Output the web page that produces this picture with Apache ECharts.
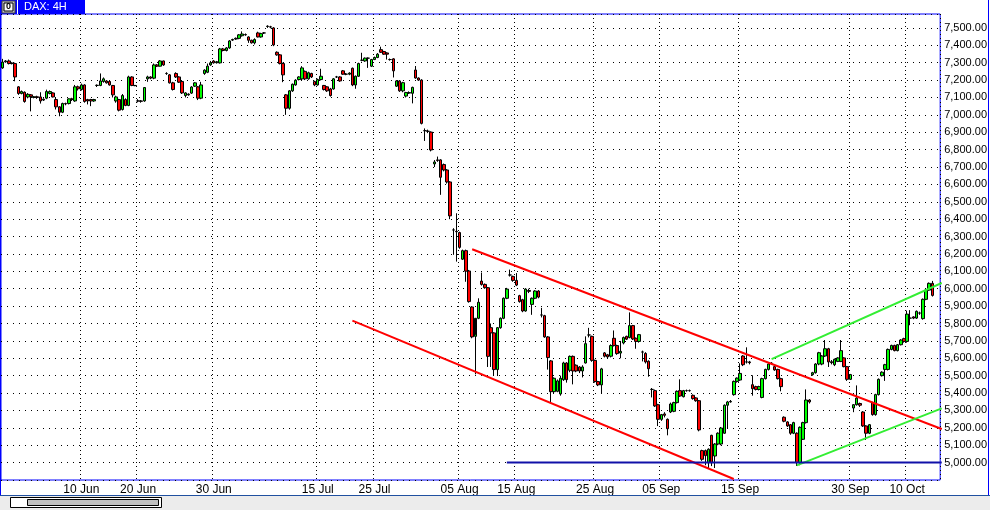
<!DOCTYPE html>
<html><head><meta charset="utf-8">
<script src="https://cdn.jsdelivr.net/npm/echarts@6/dist/echarts.min.js"></script>
<style>html,body{margin:0;padding:0;background:#fff}#c{width:990px;height:510px}</style>
</head><body><div id="c"></div>
<script>
// DAX 4H candles: [open, close, low, high]
const candles = [
[7270,7303,7265,7322],[7305,7310,7300,7315],[7310,7295,7290,7318],[7298,7295,7290,7302],[7295,7218,7193,7300],
[7161,7123,7115,7165],[7123,7134,7118,7140],[7130,7077,7070,7135],[7103,7118,7095,7125],[7115,7105,7020,7120],
[7100,7104,7095,7108],[7104,7100,7092,7110],[7103,7080,7065,7130],[7085,7090,7080,7095],[7096,7134,7090,7145],
[7123,7134,7118,7140],[7126,7103,7100,7130],[7088,7046,7031,7099],[7046,7015,6992,7050],[7015,7065,7010,7070],
[7065,7063,7055,7070],[7065,7092,7060,7095],[7092,7088,7080,7098],[7080,7161,7075,7172],[7161,7150,7140,7168],
[7146,7172,7140,7180],[7172,7077,7070,7176],[7088,7080,7060,7092],[7088,7080,7050,7092],[7080,7088,7075,7092],
[7169,7170,7160,7175],[7169,7195,7165,7238],[7192,7207,7185,7215],[7195,7184,7180,7200],[7192,7172,7168,7196],
[7169,7115,7100,7172],[7080,7103,7070,7110],[7088,7027,7020,7092],[7031,7111,7025,7120],[7088,7054,7050,7095],
[7054,7218,7050,7225],[7218,7169,7165,7222],[7169,7168,7165,7172],[7080,7080,7072,7090],[7080,7078,7070,7085],
[7080,7157,7075,7160],[7207,7218,7190,7225],[7218,7211,7205,7222],[7211,7287,7205,7295],[7287,7280,7275,7292],
[7280,7310,7278,7315],[7310,7287,7282,7312],[7238,7238,7230,7245],[7230,7184,7180,7235],[7184,7146,7140,7190],
[7238,7218,7212,7245],[7218,7188,7183,7222],[7192,7126,7120,7196],[7111,7126,7100,7130],[7115,7119,7110,7124],
[7125,7160,7120,7165],[7165,7184,7160,7188],[7161,7096,7085,7166],[7096,7172,7090,7190],[7238,7257,7230,7262],
[7245,7280,7240,7295],[7287,7299,7282,7310],[7310,7299,7295,7315],[7300,7305,7295,7310],[7299,7379,7295,7385],
[7379,7370,7365,7385],[7370,7385,7365,7390],[7385,7425,7380,7430],[7430,7433,7425,7438],[7436,7440,7432,7445],
[7440,7460,7435,7465],[7455,7465,7450,7480],[7462,7460,7455,7468],
[7448,7429,7414,7452],[7429,7414,7410,7432],[7414,7433,7405,7440],[7471,7448,7445,7478],[7448,7467,7444,7472],
[7471,7471,7465,7476],[7508,7510,7500,7515],[7506,7505,7498,7512],[7500,7402,7395,7505],[7360,7345,7340,7365],
[7345,7295,7290,7350],[7295,7230,7188,7300],[7115,7038,7000,7120],[7038,7138,7030,7142],[7138,7176,7132,7180],
[7172,7199,7168,7205],[7203,7218,7198,7222],[7207,7270,7200,7280],[7250,7207,7200,7255],[7207,7242,7202,7248],
[7238,7218,7212,7242],[7192,7172,7165,7196],[7172,7203,7168,7208],[7203,7222,7198,7265],[7169,7146,7140,7172],
[7161,7138,7132,7165],[7149,7111,7105,7155],[7149,7207,7145,7212],[7218,7218,7212,7224],[7218,7195,7190,7222],
[7253,7234,7230,7258],[7234,7234,7228,7240],[7234,7240,7228,7245],[7268,7172,7165,7272],[7172,7222,7150,7226],
[7222,7295,7218,7300],[7314,7314,7308,7357],[7310,7326,7305,7330],[7326,7326,7270,7330],[7280,7318,7275,7322],
[7318,7330,7315,7335],[7330,7349,7326,7355],[7375,7360,7356,7392],[7364,7349,7345,7368],[7356,7349,7318,7360],
[7318,7318,7312,7324],[7322,7253,7215,7326],[7165,7195,7160,7200],[7195,7138,7132,7200],[7138,7185,7130,7190],
[7108,7128,7100,7132],[7125,7128,7120,7135],[7124,7158,7066,7162],[7258,7212,7208,7281],[7212,7200,7195,7215],
[7200,6951,6945,7205],
[6909,6909,6850,6922],[6906,6905,6895,6915],[6901,6798,6790,6905],[6718,6729,6700,6740],[6741,6738,6730,6760],
[6741,6641,6540,6745],[6714,6683,6675,6720],[6683,6614,6605,6688],[6614,6419,6400,6618],[6338,6338,6195,6348],
[6330,6328,6156,6434],[6323,6238,6230,6328],[6170,6219,6165,6225],[6219,6101,6040,6225],[6102,5926,5920,6108],
[5895,5723,5715,5900],[5726,5830,5508,5735],[5830,5922,5825,5945],[6044,6025,6018,6093],[6025,6006,6000,6030],
[6006,5611,5550,6010],[5776,5746,5550,5800],[5746,5535,5498,5750],[5535,5776,5498,5780],[5776,5830,5770,5835],
[5830,5945,5825,5950],[5945,5998,5940,6005],[6079,6079,6070,6110],[6071,6048,6040,6075],[6048,6021,6015,6090],
[5960,5926,5920,5965],[5937,5872,5865,5942],[5872,5998,5868,6003],[5990,5985,5975,6000],[5910,5945,5850,5950],
[5945,5987,5940,5992],[5987,5952,5945,5992],[5849,5849,5835,5890],[5845,5723,5718,5850],[5723,5604,5535,5728],
[5585,5408,5347,5590],[5408,5485,5400,5490],[5410,5470,5405,5478],[5395,5485,5385,5500],[5477,5573,5470,5580],
[5573,5477,5460,5578],[5531,5611,5520,5616],[5611,5527,5450,5616],[5560,5527,5520,5565],[5550,5527,5515,5555],
[5527,5550,5490,5560],[5573,5684,5570,5726],[5734,5734,5720,5775],[5726,5588,5580,5730],[5588,5466,5460,5592],
[5466,5447,5440,5470],[5447,5539,5400,5545],[5631,5612,5605,5636],[5620,5608,5600,5625],[5612,5673,5605,5680],
[5715,5673,5668,5760],[5673,5627,5620,5678],[5630,5640,5600,5700],[5688,5719,5680,5725],[5726,5710,5705,5730],
[5719,5788,5715,5864],[5788,5711,5705,5792],[5715,5697,5655,5720],[5697,5736,5690,5740],[5636,5636,5582,5644],
[5628,5579,5570,5635],[5583,5540,5494,5588],[5421,5421,5375,5429],[5414,5326,5320,5420],[5333,5249,5210,5338],
[5249,5276,5240,5280],[5280,5272,5260,5290],[5249,5195,5157,5254],[5291,5337,5285,5345],[5295,5345,5290,5350],
[5345,5410,5340,5415],[5414,5383,5378,5479],[5379,5414,5375,5418],[5414,5414,5408,5420],[5414,5414,5408,5420],
[5387,5368,5362,5392],[5372,5356,5350,5376],[5356,5188,5180,5360],[5069,5019,5010,5074],[5069,5040,4985,5075],
[5000,5077,4969,5082],[5157,5000,4980,5160],[5038,5107,4969,5112],[5107,5169,5100,5174],[5107,5199,5100,5205],
[5169,5330,5165,5335],[5330,5349,5195,5355],[5349,5352,5345,5360],[5391,5467,5385,5472],[5467,5486,5460,5490],
[5475,5513,5470,5571],[5613,5563,5555,5618],[5579,5579,5570,5663],[5579,5575,5565,5585],[5448,5425,5385,5502],
[5437,5421,5415,5442],[5421,5437,5415,5442],[5375,5483,5370,5488],[5483,5536,5478,5540],[5536,5567,5530,5572],
[5571,5571,5565,5578],[5552,5533,5528,5558],[5536,5483,5478,5540],[5483,5437,5410,5488],[5261,5238,5232,5266],
[5234,5211,5205,5238],[5218,5169,5160,5222],[5169,5230,5164,5235],[5169,5000,4981,5174],[5000,5203,4985,5208],
[5134,5230,5130,5235],[5230,5360,5225,5421],[5360,5349,5340,5365],[5506,5517,5500,5522],[5517,5567,5512,5572],
[5567,5632,5560,5637],[5567,5613,5560,5618],[5613,5655,5608,5705],[5655,5579,5550,5660],[5580,5575,5565,5590],
[5563,5594,5555,5598],[5582,5602,5578,5606],[5582,5644,5578,5705],[5602,5552,5548,5606],[5552,5479,5470,5556],
[5479,5506,5475,5510],[5314,5333,5290,5337],[5333,5371,5328,5444],[5340,5330,5320,5345],[5291,5211,5205,5296],
[5211,5169,5130,5215],[5169,5218,5164,5222],[5345,5276,5270,5350],[5276,5391,5270,5396],[5391,5479,5386,5484],
[5500,5520,5495,5525],[5536,5563,5470,5568],[5536,5651,5530,5656],[5651,5674,5646,5678],[5674,5644,5640,5678],
[5644,5678,5640,5682],[5678,5705,5674,5710],[5713,5697,5690,5718],[5697,5854,5690,5874],[5831,5831,5790,5877],
[5838,5831,5825,5842],[5831,5870,5826,5875],[5860,5860,5850,5868],[5828,5939,5822,5944],[5939,5992,5934,5997],
[5992,6031,5988,6036],[6031,5961.72,5955,6045]
];
const padBars = 2;
const tickIndex = [25, 43, 67, 100, 118, 145, 163, 188, 209, 234, 269, 287];
const tickText = ['10 Jun','20 Jun','30 Jun','15 Jul','25 Jul','05 Aug','15 Aug','25 Aug','05 Sep','15 Sep','30 Sep','10 Oct'];
const upperRed = [[149, 6227], [298, 5193]];
const lowerRed = [[111, 5817], [232, 4906]];
const upperGreen = [[244, 5595], [298, 6033]];
const lowerGreen = [[252, 4984], [298, 5312]];
const support = [[160, 5000], [298, 5000]];

const categories = [];
for (let i = 0; i < candles.length + padBars; i++) categories.push(String(i));
const labelMap = {};
tickIndex.forEach((ix, k) => { labelMap[ix] = tickText[k]; });
const fmt = v => {
  const s = v.toFixed(2); const p = s.split('.');
  return p[0].replace(/\B(?=(\d{3})+(?!\d))/g, ',') + '.' + p[1];
};
const lastClose = candles[candles.length - 1][1];

const chart = echarts.init(document.getElementById('c'), null, {renderer: 'canvas'});
const lineSeries = (data, color, w) => ({
  type: 'line', data: data, symbol: 'none', silent: true, animation: false,
  lineStyle: {color: color, width: w}, z: 5
});
chart.setOption({
  animation: false,
  backgroundColor: '#fff',
  grid: {left: 1, right: 47, top: 14, bottom: 30, show: true, borderColor: '#0000ff', borderWidth: 1, backgroundColor: '#fff'},
  xAxis: {
    type: 'category', data: categories, boundaryGap: true,
    axisLine: {show: false}, axisTick: {show: false},
    axisLabel: {
      interval: (i) => tickIndex.indexOf(i) >= 0,
      formatter: (v, i) => labelMap[i] || '',
      fontSize: 12, fontFamily: 'Liberation Sans Narrow, Liberation Sans, sans-serif', color: '#000', margin: 4
    },
    splitLine: {show: true, interval: (i) => tickIndex.indexOf(i) >= 0, lineStyle: {color: '#000', width: 1, type: [1, 3]}}
  },
  yAxis: {
    type: 'value', position: 'right', min: 4900, max: 7580, interval: 100,
    axisLine: {show: false}, axisTick: {show: false},
    splitLine: {show: true, lineStyle: {color: '#000', width: 1, type: [1, 5]}},
    axisLabel: {
      margin: 4, fontSize: 11, color: '#000', fontFamily: 'Liberation Sans, Arial, sans-serif',
      formatter: v => (v >= 5000 && v <= 7500 && v % 100 === 0) ? fmt(v) : ''
    }
  },
  series: [
    {
      type: 'candlestick', data: candles, barWidth: 3,
      itemStyle: {color: '#00ff00', color0: '#ff0000', borderColor: '#000', borderColor0: '#000', borderColorDoji: '#000', borderWidth: 1},
      markLine: {
        silent: true, symbol: 'none',
        data: [{yAxis: lastClose}],
        lineStyle: {opacity: 0},
        label: {show: true, position: 'end', distance: 2, formatter: () => fmt(lastClose),
          backgroundColor: '#808080', color: '#fff', fontSize: 11, padding: [1, 2, 1, 3],
          fontFamily: 'Liberation Sans, Arial, sans-serif'}
      }
    },
    lineSeries(upperRed, '#ff0000', 2),
    lineSeries(lowerRed, '#ff0000', 2),
    lineSeries(upperGreen, '#33ee33', 2),
    lineSeries(lowerGreen, '#33ee33', 2),
    lineSeries(support, '#1010a8', 2)
  ],
  graphic: [
    {type: 'rect', shape: {x: 0, y: 0, width: 85, height: 14}, style: {fill: '#0000ff'}, z: 10},
    {type: 'rect', shape: {x: 2, y: 1, width: 13, height: 12}, style: {fill: '#c0c0c0', stroke: '#404040', lineWidth: 1}, z: 11},
    {type: 'rect', shape: {x: 4, y: 3, width: 9, height: 8}, style: {fill: '#fff', stroke: '#000', lineWidth: 1}, z: 12},
    {type: 'text', x: 6, y: 2, style: {text: '0', fill: '#000', font: 'bold 9px Liberation Sans'}, z: 13},
    {type: 'line', shape: {x1: 17.5, y1: 0, x2: 17.5, y2: 14}, style: {stroke: '#fff', lineWidth: 1}, z: 11},
    {type: 'text', x: 24, y: 1, style: {text: 'DAX: 4H', fill: '#fff', font: '11px Liberation Sans'}, z: 11},
    {type: 'line', shape: {x1: 0.5, y1: 0, x2: 0.5, y2: 495}, style: {stroke: '#0000ff', lineWidth: 1}, z: 10},
    {type: 'line', shape: {x1: 988.5, y1: 0, x2: 988.5, y2: 495}, style: {stroke: '#0000ff', lineWidth: 1}, z: 10},
    {type: 'rect', shape: {x: 0, y: 495, width: 990, height: 15}, style: {fill: '#ececec'}, z: 10},
    {type: 'line', shape: {x1: 0, y1: 495.5, x2: 990, y2: 495.5}, style: {stroke: '#2050a0', lineWidth: 1}, z: 11},
    {type: 'rect', shape: {x: 10.5, y: 497.5, width: 151, height: 10}, style: {fill: '#fff', stroke: '#000', lineWidth: 1}, z: 11},
    {type: 'rect', shape: {x: 27.5, y: 499.5, width: 131, height: 6}, style: {fill: '#c0c0c0', stroke: '#000', lineWidth: 1}, z: 12}
  ]
});
</script>
</body></html>
